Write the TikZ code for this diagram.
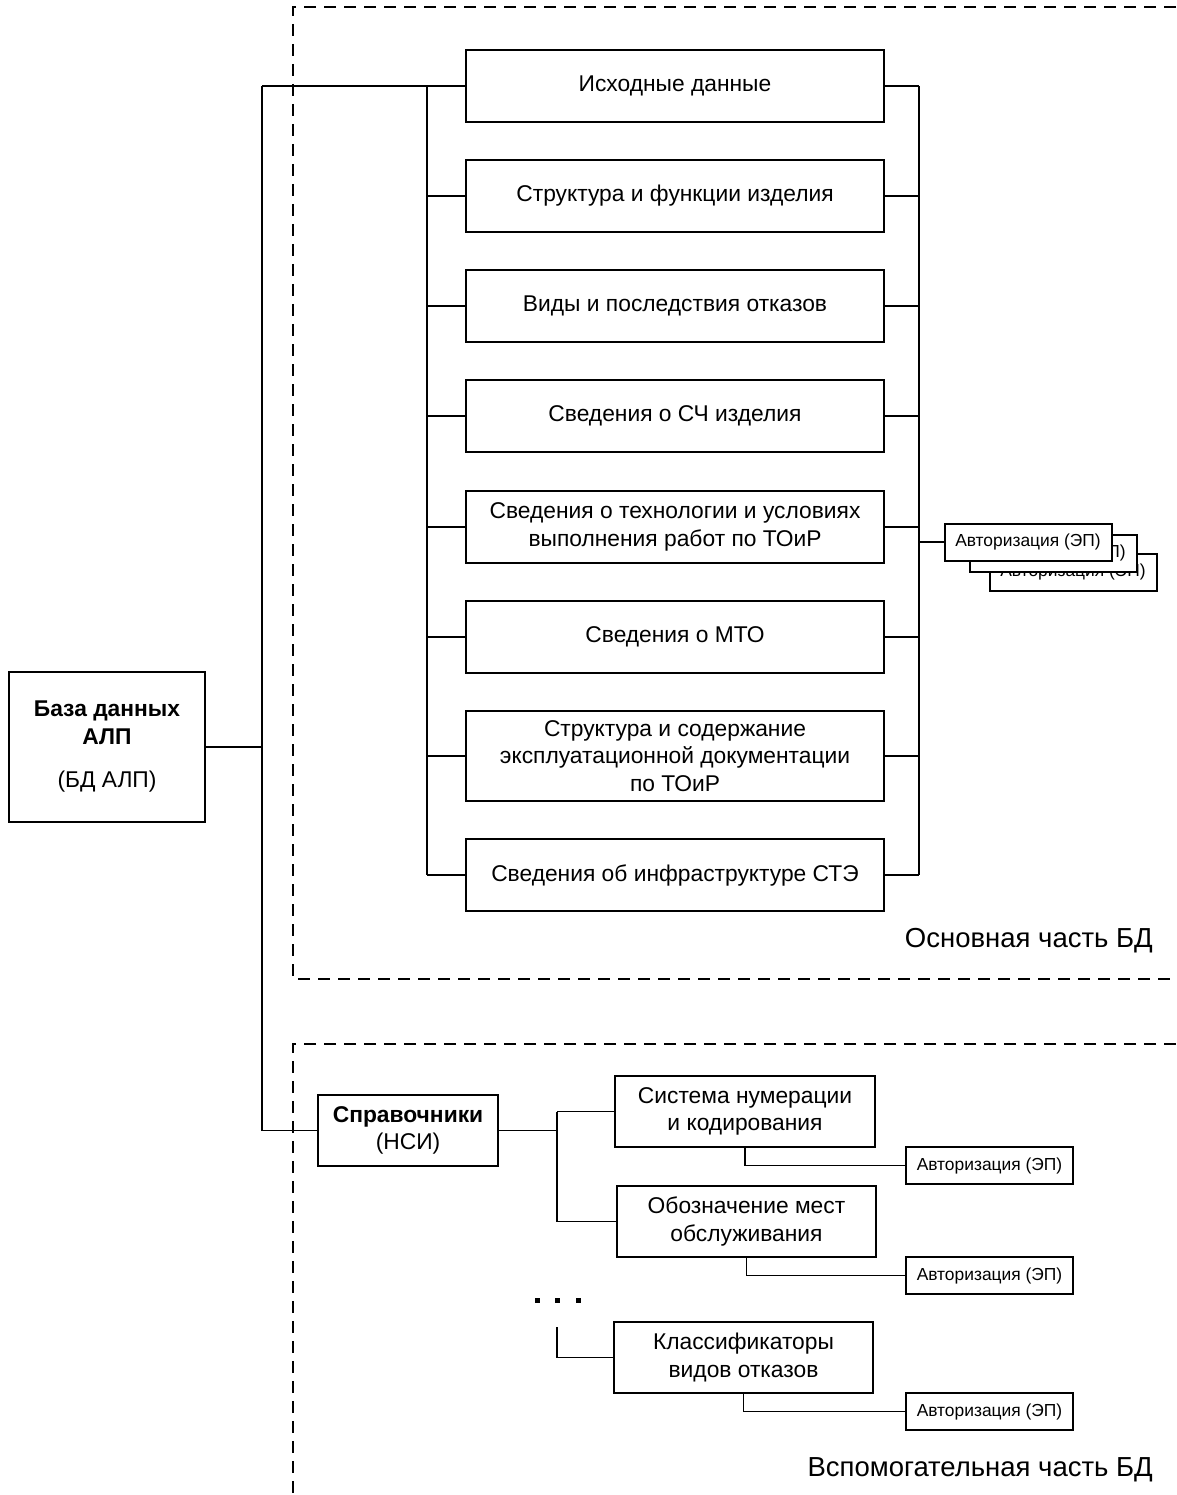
\documentclass[tikz,border=0pt]{standalone}
\usepackage{fontspec}
\setmainfont{Liberation Sans}
\begin{document}
\begin{tikzpicture}[x=1pt,y=-1pt,
  box/.style={draw,line width=2.2pt,minimum width=418pt,minimum height=72pt,inner sep=0pt,align=center,font=\fontsize{22.8}{27.5}\selectfont},
  sbox/.style={box,minimum width=259pt,minimum height=71pt},
  auth/.style={draw,fill=white,line width=2pt,minimum width=167pt,minimum height=37pt,inner sep=0pt,font=\fontsize{17.4}{20}\selectfont},
  conn/.style={line width=1.3pt},
  region/.style={dash pattern=on 12pt off 8pt,line width=1.3pt},
  lbl/.style={anchor=east,inner sep=0pt,font=\fontsize{27.5}{32}\selectfont}]
\useasboundingbox (0,0) rectangle (1176,1495);

% regions
\draw[region] (1176,7) -- (293,7) -- (293,979) -- (1176,979);
\draw[region] (1176,1044) -- (293,1044) -- (293,1495);
\node[lbl] (lmain) at (1153,941) {Основная часть БД};
\node[lbl] (laux) at (1153,1470) {Вспомогательная часть БД};

% main boxes
\node[box] (m1) at (675,86) {Исходные данные};
\node[box] (m2) at (675,196) {Структура и функции изделия};
\node[box] (m3) at (675,306) {Виды и последствия отказов};
\node[box] (m4) at (675,416) {Сведения о СЧ изделия};
\node[box] (m5) at (675,527) {Сведения о технологии и условиях\\выполнения работ по ТОиР};
\node[box] (m6) at (675,637) {Сведения о МТО};
\node[box,minimum height=90pt] (m7) at (675,756) {Структура и содержание\\эксплуатационной документации\\по ТОиР};
\node[box] (m8) at (675,875) {Сведения об инфраструктуре СТЭ};

\coordinate (lbus) at (427,0);
\coordinate (rbus) at (919,0);
\coordinate (trunk) at (262,0);
\draw[conn] (lbus |- m1.west) -- (lbus |- m8.west);
\draw[conn] (rbus |- m1.east) -- (rbus |- m8.east);
\foreach \i in {1,...,8}{
  \draw[conn] (lbus |- m\i.west) -- (m\i.west);
  \draw[conn] (m\i.east) -- (rbus |- m\i.east);
}

% authorization stack
\node[auth] (a3) at (1073,572) {Авторизация (ЭП)};
\node[auth] (a2) at (1053,553) {Авторизация (ЭП)};
\node[auth] (a1) at (1028,542) {Авторизация (ЭП)};
\draw[conn] (rbus |- a1.west) -- (a1.west);

% database
\node[draw,line width=2.2pt,minimum width=196pt,minimum height=150pt,inner sep=0pt,align=center,font=\fontsize{22.8}{27.5}\selectfont] (db) at (107,747)
  {\textbf{База данных}\\\textbf{АЛП}\\[16pt](БД АЛП)};

% reference data
\node[draw,line width=2.2pt,minimum width=180pt,minimum height=71pt,inner sep=0pt,align=center,font=\fontsize{22.8}{26.5}\selectfont] (ref) at (408,1130.5)
  {\textbf{Справочники}\\(НСИ)};

\draw[conn] (trunk |- m1.west) -- (lbus |- m1.west);
\draw[conn] (trunk |- m1.west) -- (trunk |- ref.west) -- (ref.west);
\draw[conn] (db.east) -- (trunk |- db.east);

% sub boxes
\node[sbox,minimum width=260pt] (s1) at (745,1111.5) {Система нумерации\\и кодирования};
\node[sbox] (s2) at (746.5,1221.5) {Обозначение мест\\обслуживания};
\node[sbox] (s3) at (743.5,1357.5) {Классификаторы\\видов отказов};

\node[auth] (sa1) at (989.5,1165.5) {Авторизация (ЭП)};
\node[auth] (sa2) at (989.5,1275.5) {Авторизация (ЭП)};
\node[auth] (sa3) at (989.5,1411.5) {Авторизация (ЭП)};

\coordinate (sbus) at (557,0);
\coordinate (gapTop) at (557,1327);
\draw[conn] (ref.east) -- (sbus |- ref.east);
\draw[conn] (sbus |- s1.west) -- (sbus |- s2.west);
\draw[conn] (s1.west) -- (sbus |- s1.west);
\draw[conn] (s2.west) -- (sbus |- s2.west);
\draw[conn] (gapTop) |- (s3.west);
\draw[conn] (s1.south) |- (sa1.west);
\draw[conn] (s2.south) |- (sa2.west);
\draw[conn] (s3.south) |- (sa3.west);

% dots
\foreach \x in {537,557,578}
  \fill (\x-2.5,1297.5) rectangle (\x+2.5,1302.5);
\end{tikzpicture}
\end{document}
